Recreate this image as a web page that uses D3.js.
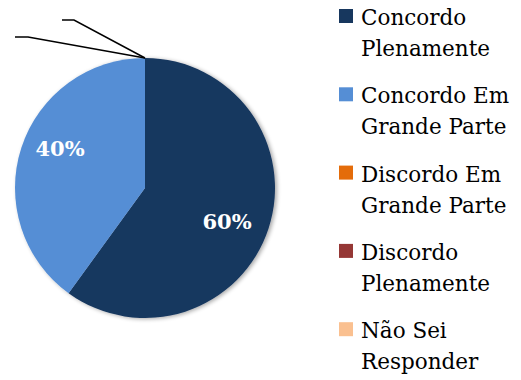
<!DOCTYPE html>
<html><head><meta charset="utf-8">
<script src="https://cdn.jsdelivr.net/npm/d3@7"></script>
<style>body{margin:0;background:#fff}svg{display:block}</style>
</head><body>
<svg id="c" width="521" height="380"></svg>
<script>
const categories = ["Concordo Plenamente","Concordo Em Grande Parte","Discordo Em Grande Parte","Discordo Plenamente","Não Sei Responder"];
const legendLines = [["Concordo","Plenamente"],["Concordo Em","Grande Parte"],["Discordo Em","Grande Parte"],["Discordo","Plenamente"],["Não Sei","Responder"]];
const values = [60,40,0,0,0];
const colors = ["#17375E","#558ED5","#E46C0A","#953735","#FAC090"];

const svg = d3.select("#c");
const cx = 145, cy = 188, R = 130;
const font = "'DejaVu Serif', serif";

const color = d3.scaleOrdinal().domain(categories).range(colors);
const pie = d3.pie().sort(null).value(d => d.v);
const data = pie(categories.map((c,i)=>({c, v: values[i]})));
const arc = d3.arc().innerRadius(0).outerRadius(R);

const defs = svg.append("defs");
const f = defs.append("filter").attr("id","sh").attr("x","-10%").attr("y","-10%").attr("width","130%").attr("height","130%");
f.append("feGaussianBlur").attr("in","SourceAlpha").attr("stdDeviation",2);
f.append("feOffset").attr("dx",2).attr("dy",1).attr("result","b");
f.append("feComponentTransfer").append("feFuncA").attr("type","linear").attr("slope",0.35);
const m = f.append("feMerge"); m.append("feMergeNode"); m.append("feMergeNode").attr("in","SourceGraphic");

const g = svg.append("g").attr("transform",`translate(${cx},${cy})`);
g.append("g").attr("filter","url(#sh)").selectAll("path").data(data.filter(d=>d.data.v>0)).join("path")
  .attr("d",arc).attr("fill",d=>color(d.data.c));

// percentage labels
const labelPos = [[82,41],[-85,-32]];
g.selectAll("text.pl").data(data.filter(d=>d.data.v>0)).join("text")
  .attr("class","pl")
  .attr("x",(d,i)=>labelPos[i][0]).attr("y",(d,i)=>labelPos[i][1])
  .attr("text-anchor","middle")
  .attr("font-family",font).attr("font-weight","bold").attr("font-size",21)
  .attr("fill","#fff").text(d=>d.data.v+"%");

// leader lines for zero slices (label text empty)
const zero = data.filter(d=>d.data.v===0);
const leaderEnds = [[-71,-168,-83],[-117,-151,-130]];
const start = [R*Math.sin(zero[0].startAngle), -R*Math.cos(zero[0].startAngle)];
leaderEnds.forEach(e=>{
  g.append("polyline")
    .attr("points",`${start[0]},${start[1]} ${e[0]},${e[1]} ${e[2]},${e[1]}`)
    .attr("fill","none").attr("stroke","#000").attr("stroke-width",1.5);
});

// legend
const lg = svg.append("g").attr("transform","translate(339,0)");
legendLines.forEach((ls,i)=>{
  const y0 = 9 + i*78.3;
  lg.append("rect").attr("x",0).attr("y",y0).attr("width",14).attr("height",14).attr("fill",colors[i]);
  const t = lg.append("text").attr("font-family",font).attr("font-size",21.5).attr("fill","#000");
  ls.forEach((s,j)=>t.append("tspan").attr("x",22).attr("y",y0+16+j*31).text(s));
});
</script>
</body></html>
